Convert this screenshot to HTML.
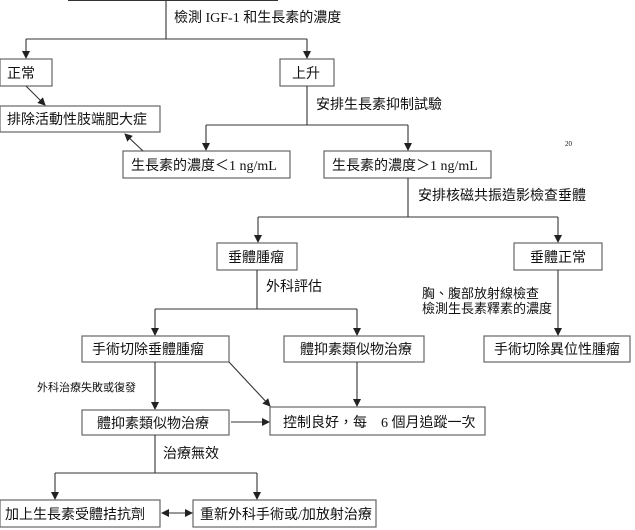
<!DOCTYPE html>
<html><head><meta charset="utf-8"><style>
html,body{margin:0;padding:0;background:#fff;}
svg{display:block;font-family:"Liberation Serif","Noto Sans CJK TC",sans-serif;}
text{font-size:14px;fill:#111;}
.b{fill:#fff;stroke:#666;stroke-width:1.2;}
.l{stroke:#333;stroke-width:1.1;fill:none;}
</style></head><body>
<svg width="635" height="530" viewBox="0 0 635 530">
<defs><marker id="a" markerWidth="8" markerHeight="8" refX="7" refY="4" orient="auto" markerUnits="userSpaceOnUse"><path d="M0,0 L8,4 L0,8 z" fill="#222"/></marker>
<marker id="s" markerWidth="8" markerHeight="8" refX="1" refY="4" orient="auto" markerUnits="userSpaceOnUse"><path d="M8,0 L0,4 L8,8 z" fill="#222"/></marker></defs>
<!-- top box bottom edge -->
<line x1="68" y1="0.5" x2="278" y2="0.5" class="l" stroke="#666"/>
<path class="l" d="M166,0 V39"/>
<path class="l" d="M26,39 H307"/>
<path class="l" d="M26,39 V58" marker-end="url(#a)"/>
<path class="l" d="M307,39 V58" marker-end="url(#a)"/>
<text x="174" y="22">檢測 IGF-1 和生長素的濃度</text>
<rect class="b" x="0" y="59" width="52" height="27"/><text x="7" y="78">正常</text>
<rect class="b" x="280" y="59" width="54" height="27"/><text x="292" y="78">上升</text>
<path class="l" d="M26,86 L45,105" marker-end="url(#a)"/>
<rect class="b" x="0" y="106" width="160" height="26"/><text x="7" y="124">排除活動性肢端肥大症</text>
<path class="l" d="M307,86 V125 M206,125 H408"/>
<text x="316" y="109">安排生長素抑制試驗</text>
<path class="l" d="M206,125 V150" marker-end="url(#a)"/>
<path class="l" d="M408,125 V150" marker-end="url(#a)"/>
<rect class="b" x="123" y="151" width="167" height="27"/><text x="131" y="170">生長素的濃度＜1 ng/mL</text>
<rect class="b" x="324" y="151" width="167" height="27"/><text x="332" y="170">生長素的濃度＞1 ng/mL</text>
<path class="l" d="M143,151 L125,134" marker-end="url(#a)"/>
<text x="565" y="146" style="font-size:7px">20</text>
<path class="l" d="M408,178 V217 M258,217 H558"/>
<text x="418" y="200">安排核磁共振造影檢查垂體</text>
<path class="l" d="M258,217 V242" marker-end="url(#a)"/>
<path class="l" d="M558,217 V242" marker-end="url(#a)"/>
<rect class="b" x="217" y="243" width="80" height="27"/><text x="228" y="262">垂體腫瘤</text>
<rect class="b" x="514" y="243" width="88" height="27"/><text x="530" y="262">垂體正常</text>
<path class="l" d="M257,270 V309 M155,309 H357"/>
<text x="266" y="291">外科評估</text>
<path class="l" d="M155,309 V335" marker-end="url(#a)"/>
<path class="l" d="M357,309 V335" marker-end="url(#a)"/>
<path class="l" d="M558,270 V335" marker-end="url(#a)"/>
<text x="422" y="298" style="font-size:13px">胸、腹部放射線檢查</text>
<text x="422" y="313" style="font-size:13px">檢測生長素釋素的濃度</text>
<rect class="b" x="82" y="336" width="147" height="26"/><text x="92" y="354">手術切除垂體腫瘤</text>
<rect class="b" x="284" y="336" width="140" height="26"/><text x="300" y="354">體抑素類似物治療</text>
<rect class="b" x="484" y="336" width="146" height="26"/><text x="494" y="354">手術切除異位性腫瘤</text>
<path class="l" d="M155,362 V409" marker-end="url(#a)"/>
<text x="37" y="391" style="font-size:11px">外科治療失敗或復發</text>
<path class="l" d="M229,362 L270,406" marker-end="url(#a)"/>
<path class="l" d="M357,362 V406" marker-end="url(#a)"/>
<rect class="b" x="82" y="410" width="147" height="25"/><text x="97" y="428">體抑素類似物治療</text>
<rect class="b" x="270" y="407" width="215" height="28"/><text x="283" y="427">控制良好，每　6 個月追蹤一次</text>
<path class="l" d="M231,422 H269" marker-end="url(#a)"/>
<path class="l" d="M155,435 V473 M55,473 H257"/>
<text x="163" y="458">治療無效</text>
<path class="l" d="M55,473 V499" marker-end="url(#a)"/>
<path class="l" d="M257,473 V499" marker-end="url(#a)"/>
<rect class="b" x="0" y="500" width="160" height="27"/><text x="5" y="519">加上生長素受體拮抗劑</text>
<rect class="b" x="193" y="500" width="183" height="27"/><text x="200" y="519">重新外科手術或/加放射治療</text>
<path class="l" d="M162,513 H192" marker-start="url(#s)" marker-end="url(#a)"/>
</svg>
</body></html>
